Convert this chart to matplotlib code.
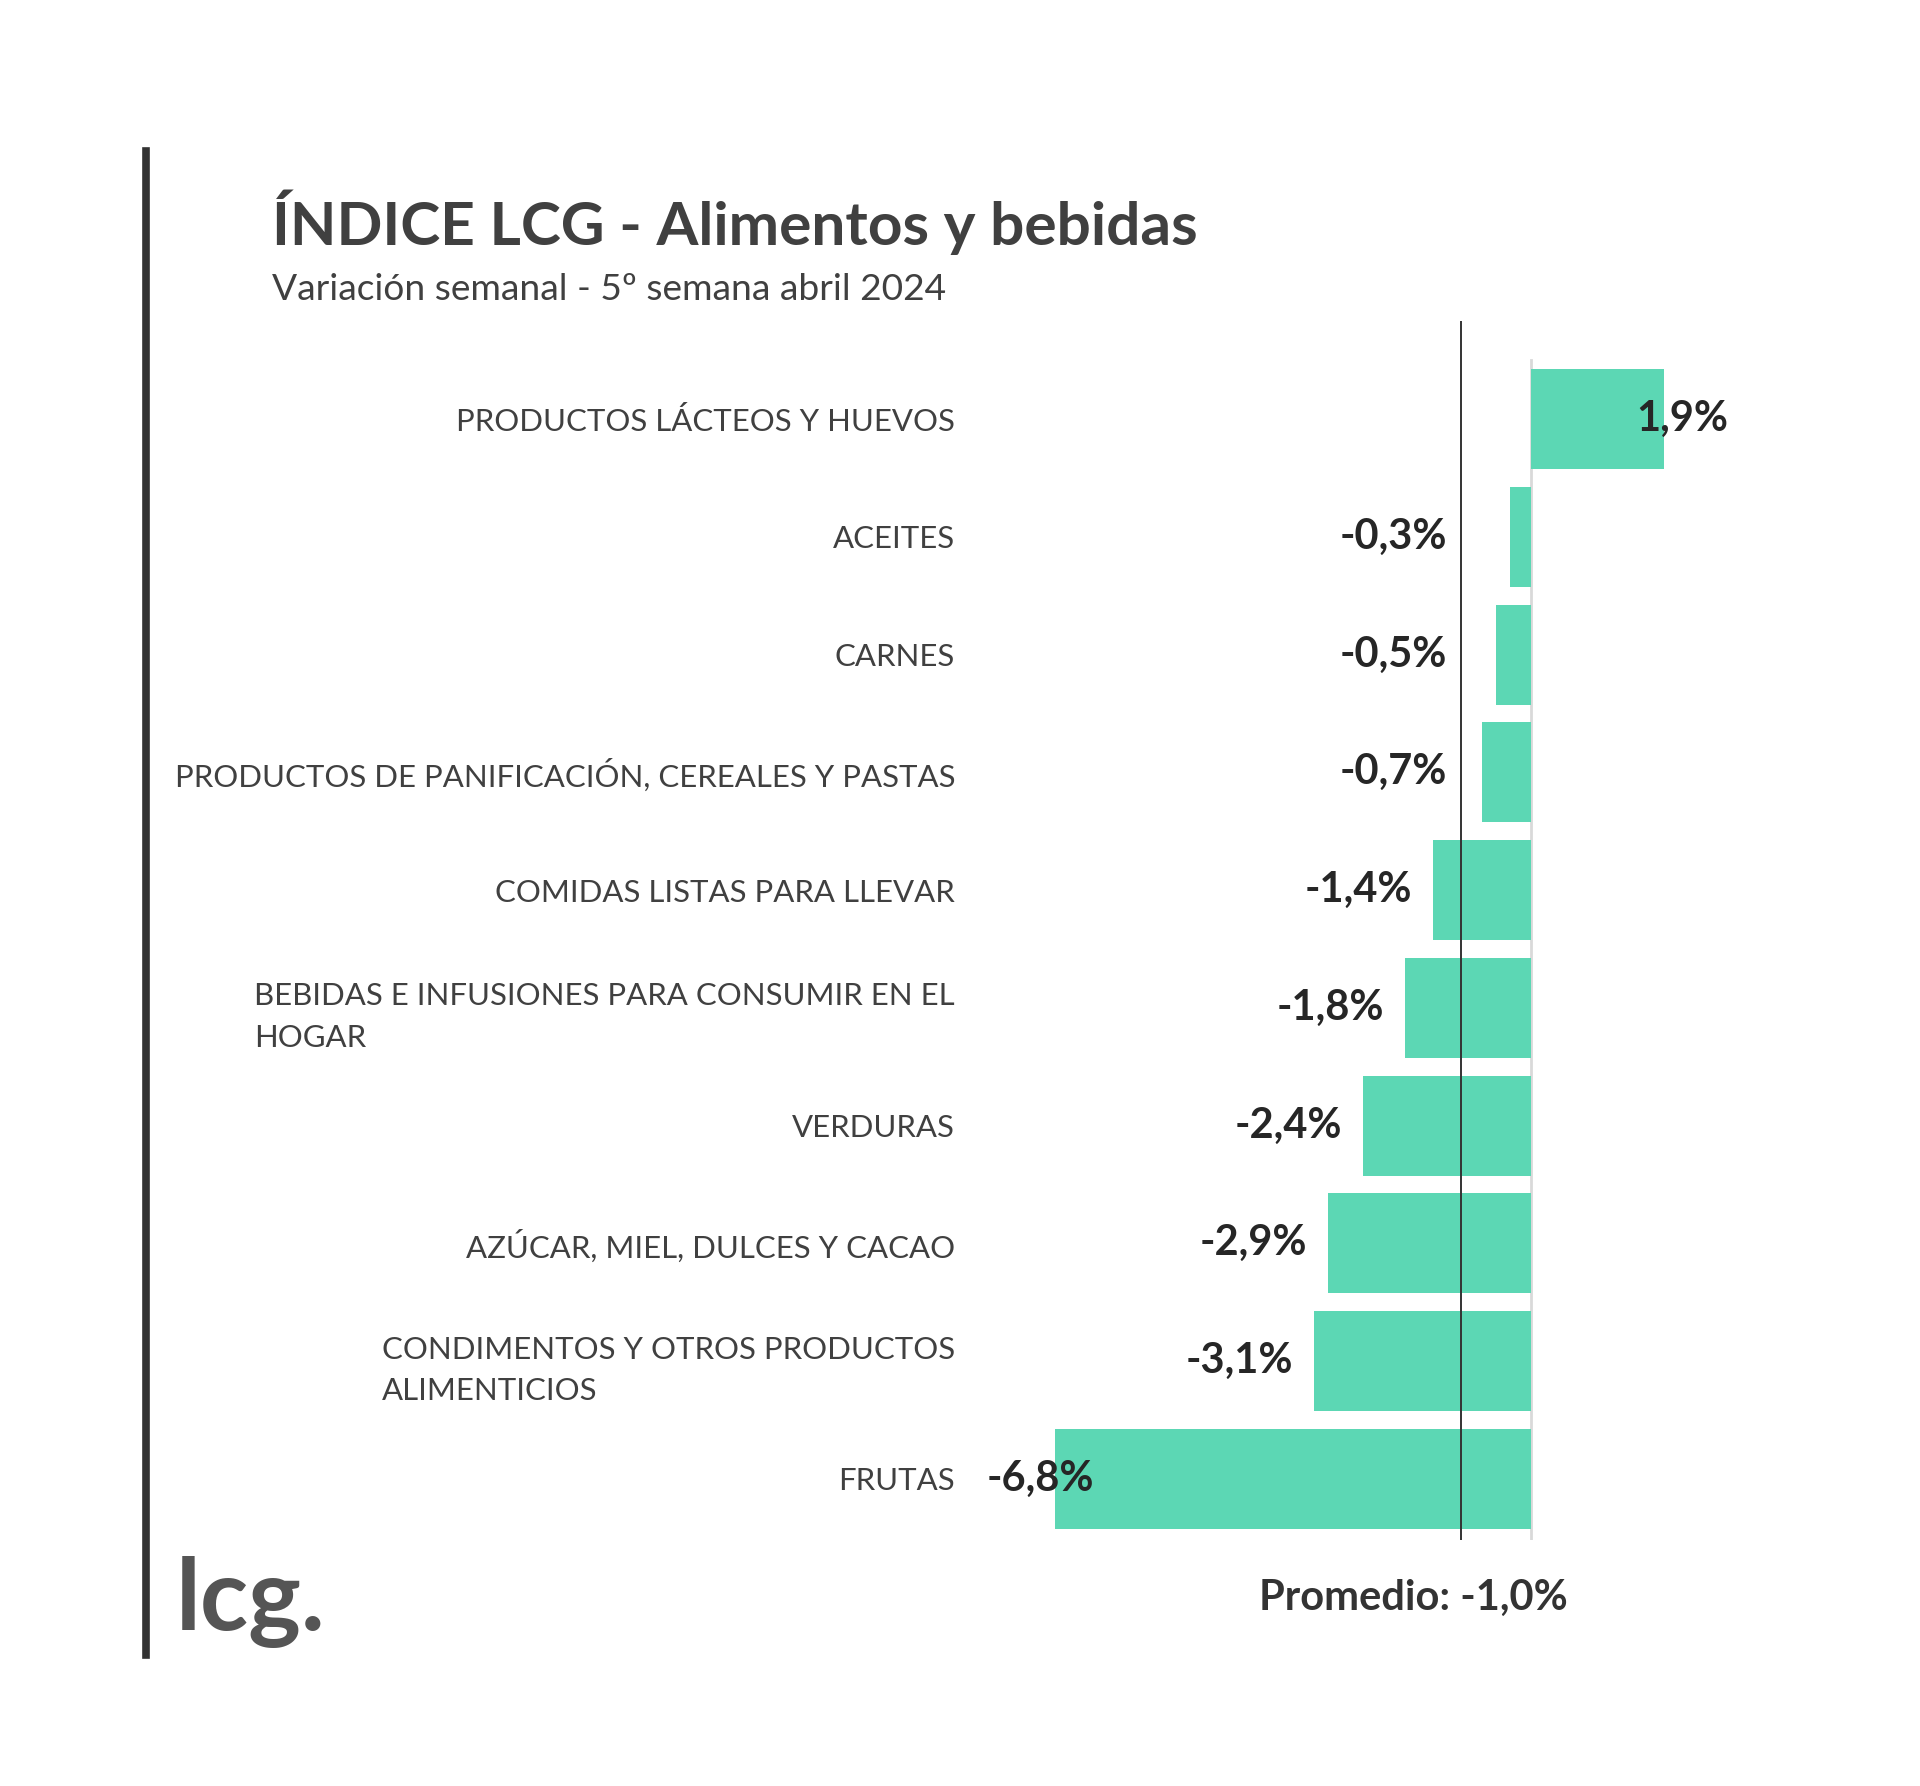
import matplotlib.pyplot as plt
from matplotlib.lines import Line2D

# Datos: variación semanal por rubro (%)
categorias = [
    "PRODUCTOS LÁCTEOS Y HUEVOS",
    "ACEITES",
    "CARNES",
    "PRODUCTOS DE PANIFICACIÓN, CEREALES Y PASTAS",
    "COMIDAS LISTAS PARA LLEVAR",
    "BEBIDAS E INFUSIONES PARA CONSUMIR EN EL\nHOGAR",
    "VERDURAS",
    "AZÚCAR, MIEL, DULCES Y CACAO",
    "CONDIMENTOS Y OTROS PRODUCTOS\nALIMENTICIOS",
    "FRUTAS",
]
variaciones = [1.9, -0.3, -0.5, -0.7, -1.4, -1.8, -2.4, -2.9, -3.1, -6.8]
promedio = -1.0

titulo = "ÍNDICE LCG - Alimentos y bebidas"
subtitulo = "Variación semanal - 5º semana abril 2024"

plt.rcParams['font.family'] = ['Lato', 'DejaVu Sans']

W, H = 1920, 1786
fig = plt.figure(figsize=(W / 100, H / 100), dpi=100)
fig.patch.set_facecolor("white")

def fx(px):
    return px / W

def fy(px):
    return 1 - px / H

# axes area (pixel coords of the reference)
ax = fig.add_axes([fx(987), fy(1540), fx(1760) - fx(987), fy(321) - fy(1540)])
xmin, xmax = -7.77, 3.27
ax.set_xlim(xmin, xmax)
ax.set_ylim(9.52, -0.833)

n = len(categorias)
pos = list(range(n))
ax.barh(pos, variaciones, height=0.85, color="#5cd7b4", zorder=2)

# zero line and average line
ax.plot([0, 0], [-0.5, n - 0.49], color="#d9d9d9", lw=2, zorder=1)
ax.axvline(promedio, color="#333333", lw=1.4, zorder=3)

def fmt(v):
    return f"{v:.1f}%".replace(".", ",")

ancho_label = 1.6  # approx width of a value label in data units
estilo = dict(va="center", fontsize=30, fontweight="bold", color="#262626", zorder=4)
for i, v in enumerate(variaciones):
    if v >= 0:
        ax.text(v - 0.4, i, fmt(v), ha="left", **estilo)
    else:
        right = min(v - 0.3, -1.2)
        if right - ancho_label < xmin:
            ax.text(xmin, i, fmt(v), ha="left", **estilo)
        else:
            ax.text(right, i, fmt(v), ha="right", **estilo)

ax.set_yticks(pos)
ax.set_yticklabels(categorias, fontsize=22.4, color="#404040")
for lab in ax.get_yticklabels():
    lab.set_multialignment("left")
    lab.set_linespacing(1.6)
ax.tick_params(axis="y", length=0, pad=23)
ax.set_xticks([])
for s in ax.spines.values():
    s.set_visible(False)
ax.patch.set_alpha(0)

# left vertical rule
fig.add_artist(Line2D([fx(146), fx(146)], [fy(151), fy(1655)], color="#333333", lw=5.5))

fig.text(fx(272), fy(245), titulo, ha="left", va="baseline", fontsize=43.5,
         fontweight="bold", color="#404040")
fig.text(fx(272), fy(300), subtitulo, ha="left", va="baseline", fontsize=26.7,
         color="#404040")

fig.text(fx(1413), fy(1610), "Promedio: " + fmt(promedio), ha="center", va="baseline",
         fontsize=30, fontweight="bold", color="#333333")

fig.text(fx(176), fy(1630), "lcg.", ha="left", va="baseline", fontsize=72,
         fontweight="bold", color="#555555")

fig.savefig("out.png", dpi=100)
